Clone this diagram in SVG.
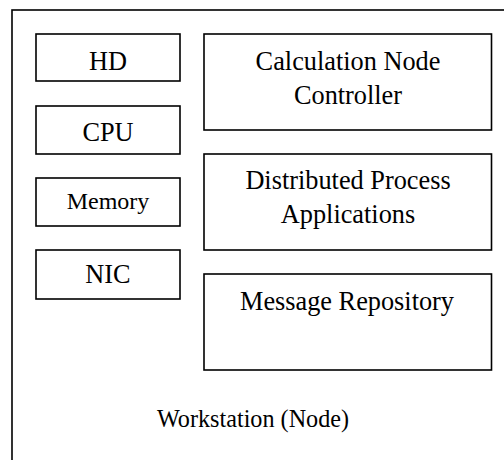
<svg xmlns="http://www.w3.org/2000/svg" width="504" height="460" viewBox="0 0 504 460">
<style>
.box{fill:#fff;stroke:#000;stroke-width:1.6}
.t{font-family:"Liberation Serif","Times New Roman",serif;font-size:26.3px;fill:#000;text-anchor:middle}
</style>
<rect width="504" height="460" fill="#fff"/>
<g id="workstation">
<rect class="box" x="12" y="10" width="520" height="480"/>
<text class="t" x="253" y="427" style="font-size:24.2px">Workstation (Node)</text>
</g>
<g id="hd"><rect class="box" x="36" y="34" width="144" height="47"/><text class="t" x="108" y="70">HD</text></g>
<g id="cpu"><rect class="box" x="36" y="106" width="144" height="48"/><text class="t" x="108" y="141">CPU</text></g>
<g id="memory"><rect class="box" x="36" y="178" width="144" height="48"/><text class="t" x="108" y="209" style="font-size:24px">Memory</text></g>
<g id="nic"><rect class="box" x="36" y="250" width="144" height="49"/><text class="t" x="108" y="283">NIC</text></g>
<g id="calc"><rect class="box" x="204" y="34" width="287.5" height="96"/><text class="t" x="348" y="70">Calculation Node</text><text class="t" x="348" y="104">Controller</text></g>
<g id="dist"><rect class="box" x="204" y="154" width="287.5" height="96"/><text class="t" x="348" y="189">Distributed Process</text><text class="t" x="348" y="223">Applications</text></g>
<g id="msg"><rect class="box" x="204" y="274" width="287.5" height="96"/><text class="t" x="347" y="310">Message Repository</text></g>
<g id="connectors"/>
</svg>
